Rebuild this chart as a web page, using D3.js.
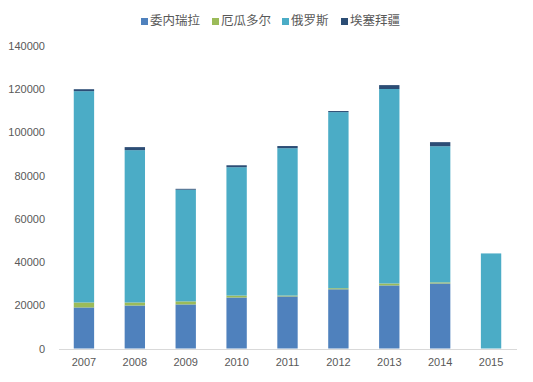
<!DOCTYPE html>
<html>
<head>
<meta charset="utf-8">
<script src="https://cdn.jsdelivr.net/npm/d3@7"></script>
<style>
body { margin: 0; background: #fff; }
text { font-family: "Liberation Sans", "Noto Sans CJK SC", sans-serif; }
</style>
</head>
<body>
<div id="chart"></div>
<script>
var years = ["2007", "2008", "2009", "2010", "2011", "2012", "2013", "2014", "2015"];
var seriesNames = ["委内瑞拉", "厄瓜多尔", "俄罗斯", "埃塞拜疆"];
var venezuela = [19000, 19900, 20400, 23600, 24100, 27400, 29200, 30100, 0];
var ecuador = [2300, 1400, 1400, 900, 400, 500, 900, 500, 0];
var russia = [97800, 70500, 51700, 59400, 68200, 81500, 90000, 63000, 44000];
var azerbaijan = [900, 1400, 400, 900, 1000, 500, 1800, 1900, 0];
var yTicks = [0, 20000, 40000, 60000, 80000, 100000, 120000, 140000];
var colors = ["#4F81BD", "#9BBB59", "#4BACC6", "#2C4D75"];

var width = 533, height = 382;

var svg = d3.select("#chart").append("svg")
.attr("width", width)
.attr("height", height);

var x = d3.scaleBand()
.domain(years)
.range([58.5, 516.5])
.paddingInner(0.6)
.paddingOuter(0.3);

var y = d3.scaleLinear()
.domain([0, 140000])
.range([348.5, 46]);

// stack the four series
var table = years.map(function(yr, i) {
	return { year: yr, 0: venezuela[i], 1: ecuador[i], 2: russia[i], 3: azerbaijan[i] };
});
var stack = d3.stack().keys([0, 1, 2, 3]);
var layers = stack(table);

svg.selectAll("g.layer").data(layers)
.enter().append("g")
.attr("class", "layer")
.attr("fill", function(d, i) { return colors[i]; })
.selectAll("rect").data(function(d) { return d; })
.enter().append("rect")
.attr("x", function(d) { return x(d.data.year); })
.attr("width", x.bandwidth())
.attr("y", function(d) { return y(d[1]); })
.attr("height", function(d) { return Math.max(0, y(d[0]) - y(d[1])); });

// y axis labels
var yAxis = d3.axisLeft(y).tickValues(yTicks).tickFormat(d3.format("d")).tickSize(0).tickPadding(0);
var gy = svg.append("g")
.attr("transform", "translate(45,0)")
.call(yAxis);
gy.select(".domain").remove();
gy.selectAll("text")
.attr("fill", "#595959")
.style("font-size", "11px");

// x axis
var xAxis = d3.axisBottom(x).tickSize(0).tickPadding(9);
var gx = svg.append("g")
.attr("transform", "translate(0,349)")
.call(xAxis);
gx.select(".domain").attr("stroke", "#d9d9d9").attr("stroke-width", 1.2);
gx.selectAll("text")
.attr("fill", "#595959")
.style("font-size", "11px");

// legend
var legendX = [141, 212, 282, 341];
var legend = svg.selectAll("g.legend").data(seriesNames)
.enter().append("g")
.attr("class", "legend")
.attr("transform", function(d, i) { return "translate(" + legendX[i] + ",0)"; });
legend.append("rect")
.attr("x", 0).attr("y", 18)
.attr("width", 7).attr("height", 7)
.attr("fill", function(d, i) { return colors[i]; });
legend.append("text")
.attr("x", 9).attr("y", 21)
.attr("dy", "0.35em")
.attr("fill", "#595959")
.style("font-size", "12.5px")
.text(function(d) { return d; });
</script>
</body>
</html>
